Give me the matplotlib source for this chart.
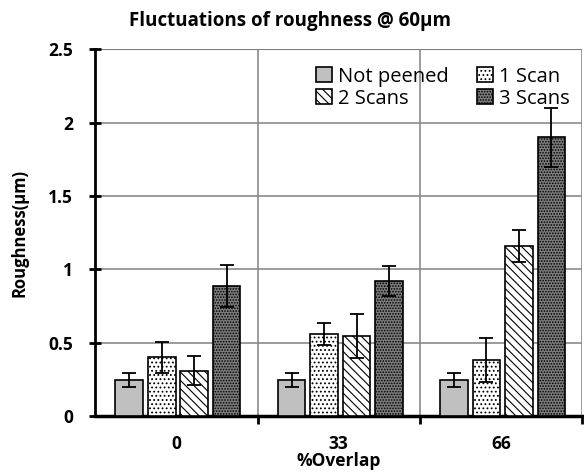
import numpy as np
import matplotlib.pyplot as plt

plt.rcParams['font.family'] = ['Open Sans', 'DejaVu Sans']
plt.rcParams['hatch.linewidth'] = 0.8

overlap = ['0', '33', '66']
series = ['Not peened', '1 Scan', '2 Scans', '3 Scans']
not_peened = [0.245, 0.245, 0.245]
scan1 = [0.40, 0.56, 0.38]
scan2 = [0.31, 0.545, 1.16]
scan3 = [0.885, 0.92, 1.90]
err_np = [0.05, 0.05, 0.05]
err_1 = [0.105, 0.075, 0.15]
err_2 = [0.10, 0.15, 0.11]
err_3 = [0.145, 0.10, 0.20]

values = [not_peened, scan1, scan2, scan3]
errors = [err_np, err_1, err_2, err_3]
faces = ['#c0c0c0', 'white', 'white', '#7c7c7c']
hatches = [None, '....', '\\\\\\\\', '......']

fig = plt.figure(figsize=(5.84, 4.73), dpi=100)
ax = fig.add_axes([0.163, 0.1205, 0.834, 0.7755])

x = np.arange(len(overlap))
w = 0.17
offsets = [-0.29, -0.09, 0.11, 0.31]
bars = []
for i in range(4):
    b = ax.bar(x + offsets[i], values[i], w, color=faces[i], edgecolor='black',
               hatch=hatches[i], linewidth=1.2, label=series[i], zorder=3,
               yerr=errors[i], capsize=5,
               error_kw=dict(ecolor='black', elinewidth=1.3, capthick=1.3, zorder=4))
    bars.append(b)

ax.set_xlim(-0.5, 2.5)
ax.set_ylim(0, 2.5)
ax.set_yticks([0, 0.5, 1, 1.5, 2, 2.5])
ax.set_yticklabels(['0', '0.5', '1', '1.5', '2', '2.5'], fontweight='bold', fontsize=12.5)
ax.set_xticks(x)
ax.set_xticklabels(overlap, fontweight='bold', fontsize=12.5)
ax.set_xticks([0.5, 1.5, 2.5], minor=True)
ax.tick_params(axis='x', which='major', length=0, pad=14)
ax.tick_params(axis='x', which='minor', length=6, width=2, direction='out')
ax.tick_params(axis='y', length=8, width=2, direction='inout', pad=12)

ax.grid(axis='y', color='#8a8a8a', linewidth=1.2, zorder=0)
ax.grid(axis='x', which='minor', color='#8a8a8a', linewidth=1.2, zorder=0)
for s in ['top', 'right']:
    ax.spines[s].set_visible(False)
ax.axhline(2.5, color='#333333', linewidth=1.5, zorder=1)
ax.spines['left'].set_linewidth(2)
ax.spines['bottom'].set_linewidth(2.5)

ax.set_xlabel('%Overlap', fontweight='bold', fontsize=12.5, labelpad=-1)
ax.set_ylabel('Roughness(µm)', fontweight='bold', fontsize=12, labelpad=14)
fig.text(0.497, 0.955, 'Fluctuations of roughness @ 60µm', ha='center', va='center',
         fontweight='bold', fontsize=13.5)

# legend rows: Not peened | 1 Scan, then 2 Scans | 3 Scans
order = [0, 2, 1, 3]
ax.legend([bars[k] for k in order], [series[k] for k in order],
          ncol=2, frameon=False, loc='upper right', bbox_to_anchor=(1.0, 0.985),
          fontsize=14.5, handlelength=0.8, handleheight=0.8, handletextpad=0.3,
          columnspacing=1.4, labelspacing=0.1, borderaxespad=0.2)

plt.savefig('out.png', dpi=100)
